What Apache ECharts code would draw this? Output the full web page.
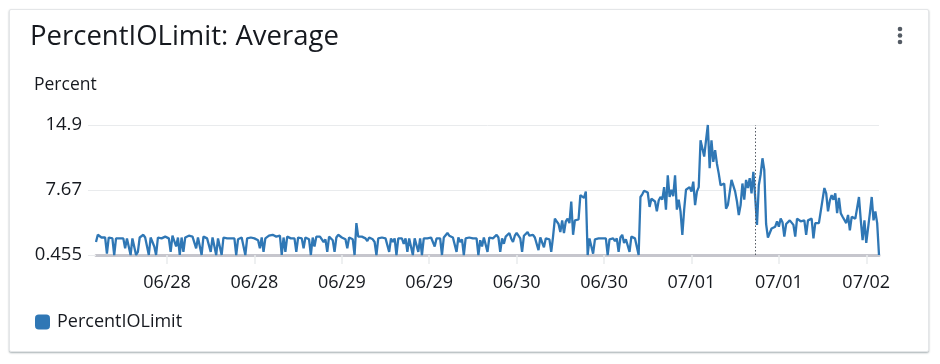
<!DOCTYPE html>
<html><head><meta charset="utf-8">
<script src="https://cdn.jsdelivr.net/npm/echarts@6/dist/echarts.min.js"></script>
<style>
html,body{margin:0;padding:0;background:#fff;}
#card{position:absolute;left:9px;top:9px;width:918px;height:341px;border:1px solid #e4e6e8;border-radius:2px;box-shadow:0 1px 2px rgba(0,28,36,0.35);background:#fff;}
#c{position:absolute;left:0;top:0;width:940px;height:364px;}
</style>
</head><body><div id="card"></div><div id="c"></div><script>
// PercentIOLimit, 15-minute averages, starting 06/27 14:15
const part1 = [1.9,2.7,2.5,2.4,2.3,2.4,0.6,2.4,2.3,2.3,
 0.455,2.3,2.3,2.3,2.3,2.3,1.2,2.3,2.3,0.455,
 2.3,2.3,0.455,0.8,2.4,2.5,2.7,2.4,2.3,0.455,
 2.4,2.3,1.4,0.455,2.4,2.3,2.3,2.4,2.5,2.4,
 2.3,0.8,2.6,2.5,1.4,2.4,0.455,2.4,0.8,2.4,
 2.4,2.6,2.8,2.5,2.3,1.2,2.4,2.3,0.455,2.5,
 2.6,2.3];
const part2 = [2.3,0.8,2.4,2.3,0.455,2.3,2.4,0.455,
 2.4,2.3,2.3,2.3,2.3,2.3,2.3,0.455,2.2,2.3,
 2.4,2.3,0.455,2.3,2.4,2.4,2.3,2.3,2.3,2.1,
 1.2,2.4,0.8,2.3,2.5,2.6,2.4,2.7,2.9,2.5,
 2.4,2.6,0.455,2.4,0.8,2.5,2.4,2.3,2.3,2.3,
 0.8,2.4,2.3,2.3,1.2,2.4,2.3,2.2,0.455,2.4,
 1.4,2.5,2.7];
const part3 = [2.5,2.3,1.9,2.2,0.8,2.5,2.3,
 2.1,0.8,2.4,2.7,2.5,2.4,2.3,2.2,1.2,2.4,
 2.3,2.2,0.455,4.0,2.5,2.7,2.5,2.6,2.3,2.0,
 2.4,2.3,2.2,1.9,0.455,2.3,2.5,2.4,2.3,2.3,
 2.3,0.8,2.3,1.9,2.3,0.455,2.3,2.3,2.3,1.7,
 2.3,0.8,2.3,2.3,0.455,2.3,2.3,0.8,2.3,0.455,
 2.3,2.3,2.3];
const part4 = [2.3,2.4,2.3,1.4,2.3,2.4,2.3,
 0.455,2.4,2.6,2.9,2.6,2.5,2.4,2.3,0.8,2.4,
 1.9,2.2,0.455,2.3,2.5,2.4,2.3,2.3,2.3,2.3,
 0.455,2.1,1.4,2.4,2.3,0.8,2.4,2.3,2.3,2.5,
 2.7,2.4,0.8,2.3,1.7,2.5,2.6,2.9,2.3,1.9,
 2.6,2.9,2.6,2.3,0.8,2.6,2.8,3.0,2.6,2.8,
 2.7,2.4,2.3,1.0,2.4,2.5];
const part5 = [1.3,2.3,2.3,2.2,
 0.8,2.5,4.5,4.2,3.9,3.0,4.3,2.9,4.2,4.5,
 4.0,6.4,2.7,4.3,4.3,4.4,7.1,6.9,6.8,7.5,
 0.455,2.3,2.2,0.6,2.2,2.1,2.3,2.3,2.3,2.3,
 2.3,0.455,2.2,2.1,2.3,2.0,2.3,0.8,2.4,2.7,
 1.8,2.2,2.3,0.8,2.5,2.3,2.3,2.3,0.455,6.9,
 7.2,7.6,7.5,7.4,5.8,6.7,6.6,6.4];
const part6 = [5.3,6.5,
 6.9,6.6,8.0,5.5,9.3,6.9,7.7,7.0,9.3,5.5,
 6.6,5.3,2.7,5.5,7.7,7.6,8.0,7.5,8.6,6.0,
 7.5,8.0,13.2,13.0,11.4,13.2,14.9,10.1,13.2,10.8,
 12.1,10.6,9.5,8.2,8.3,8.4,5.6,6.0,6.2,8.8,
 8.8,7.5,6.4,4.9,6.0,8.4,6.6,8.8,7.9,9.0,
 7.3,9.7,6.9,3.8,8.2,9.4,11.2,9.9];
const part7 = [3.9,2.4,
 2.3,3.4,3.6,3.6,4.2,3.6,4.5,4.1,2.5,3.9,
 4.1,4.3,4.5,3.8,2.5,4.5,4.3,4.2,4.3,4.3,
 2.7,4.3,4.4,4.5,2.3,4.0,4.0,4.0,4.0,6.6,
 7.9,7.3,5.3,6.5,7.1,6.6,7.3,5.1,6.8,5.1,
 4.7,4.5,4.0,4.9,3.2,4.7,4.9,4.5,4.7,6.9,
 4.3,2.1,4.3,1.8,1.9,5.1,6.9,4.3,5.3,4.0,
 0.455];

const startTime = Date.UTC(2024, 5, 27, 14, 15);
const stepMs = 15 * 60 * 1000;
const xTickTimes = [
  Date.UTC(2024,5,28,0), Date.UTC(2024,5,28,12),
  Date.UTC(2024,5,29,0), Date.UTC(2024,5,29,12),
  Date.UTC(2024,5,30,0), Date.UTC(2024,5,30,12),
  Date.UTC(2024,6,1,0),  Date.UTC(2024,6,1,12),
  Date.UTC(2024,6,2,0)
];
const xTickLabels = ['06/28','06/28','06/29','06/29','06/30','06/30','07/01','07/01','07/02'];
const yTickValues = [0.455, 7.6775, 14.9];
const yTickLabels = ['0.455','7.67','14.9'];
const markerTime = Date.UTC(2024, 6, 1, 8, 45);
const seriesName = 'PercentIOLimit';

const values = [].concat(part1, part2, part3, part4, part5, part6, part7);
const seriesData = values.map((v, i) => [startTime + i * stepMs, v]);
const endTime = startTime + (values.length - 1) * stepMs;

const FONT = '"Open Sans", sans-serif';
const TXT = '#16191f';
const GRID = '#e9ebed';
const LINE = '#2f77b5';

const chart = echarts.init(document.getElementById('c'), null, {renderer: 'canvas'});
chart.setOption({
  backgroundColor: 'transparent',
  animation: false,
  textStyle: {fontFamily: FONT},
  title: {
    text: 'PercentIOLimit: Average',
    left: 30, top: 23, padding: 0,
    textStyle: {fontSize: 27.5, fontWeight: 'normal', color: TXT, fontFamily: FONT}
  },
  legend: {
    data: [seriesName],
    left: 35, top: 313, padding: 0,
    icon: 'roundRect',
    itemWidth: 15, itemHeight: 15,
    textStyle: {fontSize: 18, color: TXT, fontFamily: FONT, padding: [0, 0, 0, 2]}
  },
  graphic: [
    {type: 'text', left: 34, top: 76, style: {text: 'Percent', fontSize: 17.5, fill: TXT, fontFamily: FONT}},
    {type: 'circle', shape: {cx: 900, cy: 29, r: 2.3}, style: {fill: '#545b64'}},
    {type: 'circle', shape: {cx: 900, cy: 35.5, r: 2.3}, style: {fill: '#545b64'}},
    {type: 'circle', shape: {cx: 900, cy: 42, r: 2.3}, style: {fill: '#545b64'}}
  ],
  grid: {left: 96, right: 61, top: 125, bottom: 109, outerBoundsMode: 'none', containLabel: false},
  xAxis: {
    type: 'value',
    min: startTime, max: endTime,
    axisLine: {show: true, lineStyle: {color: '#c6c6cd', width: 3}},
    axisTick: {show: true, length: 9, customValues: xTickTimes, lineStyle: {color: GRID, width: 1.5}},
    axisLabel: {
      customValues: xTickTimes,
      showMinLabel: true, showMaxLabel: true,
      fontSize: 18, color: TXT, fontFamily: FONT, margin: 19,
      formatter: (v) => {
        const k = xTickTimes.findIndex(t => Math.abs(t - v) < 60000);
        return k >= 0 ? xTickLabels[k] : '';
      }
    },
    splitLine: {show: false}
  },
  yAxis: {
    type: 'value',
    min: 0.455, max: 14.9,
    axisLine: {show: false},
    axisTick: {show: true, length: 8, customValues: yTickValues, lineStyle: {color: GRID}},
    axisLabel: {
      customValues: yTickValues,
      fontSize: 18.5, color: TXT, fontFamily: FONT, margin: 14,
      formatter: (v) => {
        const k = yTickValues.findIndex(t => Math.abs(t - v) < 1e-6);
        return k >= 0 ? yTickLabels[k] : '';
      }
    },
    splitLine: {show: true, lineStyle: {color: GRID, width: 1}}
  },
  series: [{
    name: seriesName,
    type: 'line',
    data: seriesData,
    showSymbol: false,
    color: LINE,
    lineStyle: {width: 2.3, color: LINE},
    z: 3,
    markLine: {
      silent: true,
      symbol: ['none', 'none'],
      label: {show: false},
      lineStyle: {type: [1.5, 2], color: '#545b64', width: 1},
      data: [{xAxis: markerTime}]
    }
  }]
});
</script></body></html>
